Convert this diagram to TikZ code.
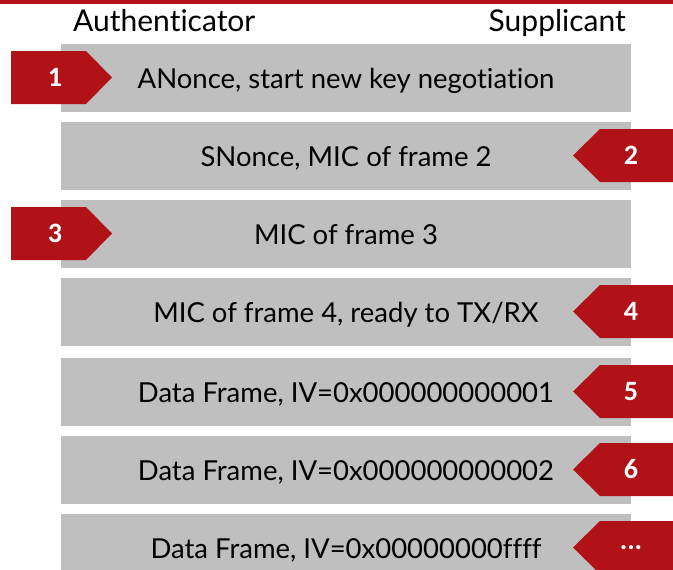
\documentclass[tikz,border=0pt]{standalone}
\usepackage{fontspec}
\setmainfont{Lato}[Ligatures=NoCommon]
\newfontfamily\numfont{Carlito}
\definecolor{hsred}{HTML}{B01218}
\definecolor{hsgray}{HTML}{BFBFBF}
\begin{document}
\begin{tikzpicture}[x=1pt,y=-1pt,
  msgbox/.style={fill=hsgray},
  tagshape/.style={fill=hsred},
  msgtext/.style={font=\fontsize{27.5}{30}\selectfont, text=black, inner sep=0, anchor=base},
  tagtext/.style={font=\numfont\bfseries\fontsize{28}{30}\selectfont, text=white, inner sep=0},
  role/.style={font=\fontsize{30}{32}\selectfont, text=black, inner sep=0}]
\useasboundingbox (0,0) rectangle (673,570);
\clip (0,0) rectangle (673,570);
% top rule
\fill[hsred] (0,0) rectangle (673,4);
% column headings
\node[role, anchor=base west] (auth) at (73,31) {Authenticator};
\node[role, anchor=base east] (supp) at (626,31) {Supplicant};
% handshake messages: index / top edge / side of the tag / tag label / message
\foreach \i/\top/\side/\num/\txt in {
  1/44/L/1/{ANonce, start new key negotiation},
  2/122/R/2/{SNonce, MIC of frame 2},
  3/200/L/3/{MIC of frame 3},
  4/278/R/4/{MIC of frame 4, ready to TX{/}RX},
  5/358/R/5/{Data Frame, IV=0x000000000001},
  6/436/R/6/{Data Frame, IV=0x000000000002},
  7/514/R/{...}/{Data Frame, IV=0x00000000ffff}}{
  \fill[msgbox] (61,\top) rectangle (631,\top+68);
  \node[msgtext] (msg\i) at (346,\top+44) {\txt};
  \if\side L
    \fill[tagshape] (11,\top+7) -- (86,\top+7) -- (112,\top+33.5)
      -- (86,\top+60) -- (11,\top+60) -- cycle;
    \node[tagtext] (tag\i) at (55,\top+33.5) {\num};
  \else
    \fill[tagshape] (680,\top+7) -- (600,\top+7) -- (573,\top+33.5)
      -- (600,\top+60) -- (680,\top+60) -- cycle;
    \node[tagtext] (tag\i) at (631,\top+33.5) {\num};
  \fi
}
\end{tikzpicture}
\end{document}
